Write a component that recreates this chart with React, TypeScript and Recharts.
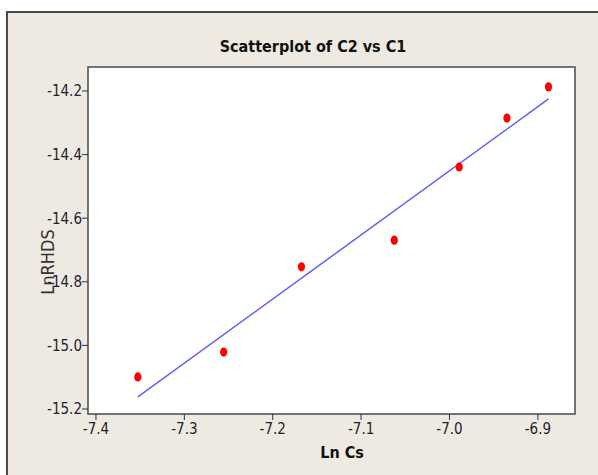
import React from 'react';
import { ScatterChart, XAxis, YAxis, Scatter, ReferenceArea } from 'recharts';

// Ln Cs (C1) against Ln RHDS (C2)
const lnCs = [-7.3526, -7.2555, -7.1675, -7.0625, -6.989, -6.935, -6.888];
const lnRhds = [-15.099, -15.021, -14.753, -14.669, -14.439, -14.285, -14.187];

// fitted regression line, end points
const fitX = [-7.3526, -6.888];
const fitY = [-15.162, -14.225];

const xTicks = [-7.4, -7.3, -7.2, -7.1, -7.0, -6.9];
const yTicks = [-15.2, -15.0, -14.8, -14.6, -14.4, -14.2];

const xDomain: [number, number] = [-7.409, -6.858];
const yDomain: [number, number] = [-15.2157, -14.1245];

const points = lnCs.map((x, i) => ({ x, y: lnRhds[i] }));
const fitLine = fitX.map((x, i) => ({ x, y: fitY[i] }));

const FONT = '"DejaVu Sans Condensed", "DejaVu Sans", sans-serif';

const Dot = (props: any) => {
  const { cx, cy } = props;
  return <ellipse cx={cx} cy={cy} rx={3.6} ry={4.6} fill="#ff0000" />;
};

const NoDot = () => <g />;

const App: React.FC = () => {
  return (
    <div style={{ position: 'absolute', left: 0, top: 0, width: 598, height: 475, background: '#ffffff', overflow: 'hidden' }}>
      <div
        style={{
          position: 'absolute',
          left: 6,
          top: 11,
          width: 610,
          height: 480,
          background: '#eeeae1',
          border: '2px solid #4a4a4a',
        }}
      />
      <div style={{ position: 'absolute', left: 0, top: 0 }}>
        <ScatterChart width={598} height={475} margin={{ top: 67, right: 23, bottom: 31, left: 0 }}>
          <ReferenceArea
            x1={xDomain[0]}
            x2={xDomain[1]}
            y1={yDomain[0]}
            y2={yDomain[1]}
            fill="#ffffff"
            fillOpacity={1}
            stroke="#4a4a4a"
            strokeWidth={1.5}
          />
          <XAxis
            type="number"
            dataKey="x"
            domain={xDomain}
            ticks={xTicks}
            allowDataOverflow
            height={30}
            tickSize={6}
            tickMargin={3}
            tickFormatter={(v: number) => v.toFixed(1)}
            axisLine={false}
            tickLine={{ stroke: '#333' }}
            tick={{ fill: '#1e2233', fontSize: 15, fontFamily: FONT }}
          />
          <YAxis
            type="number"
            dataKey="y"
            domain={yDomain}
            ticks={yTicks}
            allowDataOverflow
            width={88}
            tickSize={6}
            tickMargin={0}
            tickFormatter={(v: number) => v.toFixed(1)}
            axisLine={false}
            tickLine={{ stroke: '#333' }}
            tick={{ fill: '#1e2233', fontSize: 15, fontFamily: FONT }}
          />
          <Scatter
            data={fitLine}
            line={{ stroke: '#6060ff', strokeWidth: 1.5 }}
            shape={NoDot}
            isAnimationActive={false}
          />
          <Scatter data={points} shape={Dot} isAnimationActive={false} />
          <text x={313} y={52} textAnchor="middle" fontFamily={FONT} fontWeight="bold" fontSize={16} fill="#111">
            Scatterplot of C2 vs C1
          </text>
          <text x={342} y={458} textAnchor="middle" fontFamily={FONT} fontWeight="bold" fontSize={16} fill="#111">
            Ln Cs
          </text>
          <text
            x={54}
            y={262}
            transform="rotate(-90 54 262)"
            textAnchor="middle"
            fontFamily={FONT}
            fontSize={18}
            fill="#333"
          >
            LnRHDS
          </text>
        </ScatterChart>
      </div>
    </div>
  );
};

export default App;
